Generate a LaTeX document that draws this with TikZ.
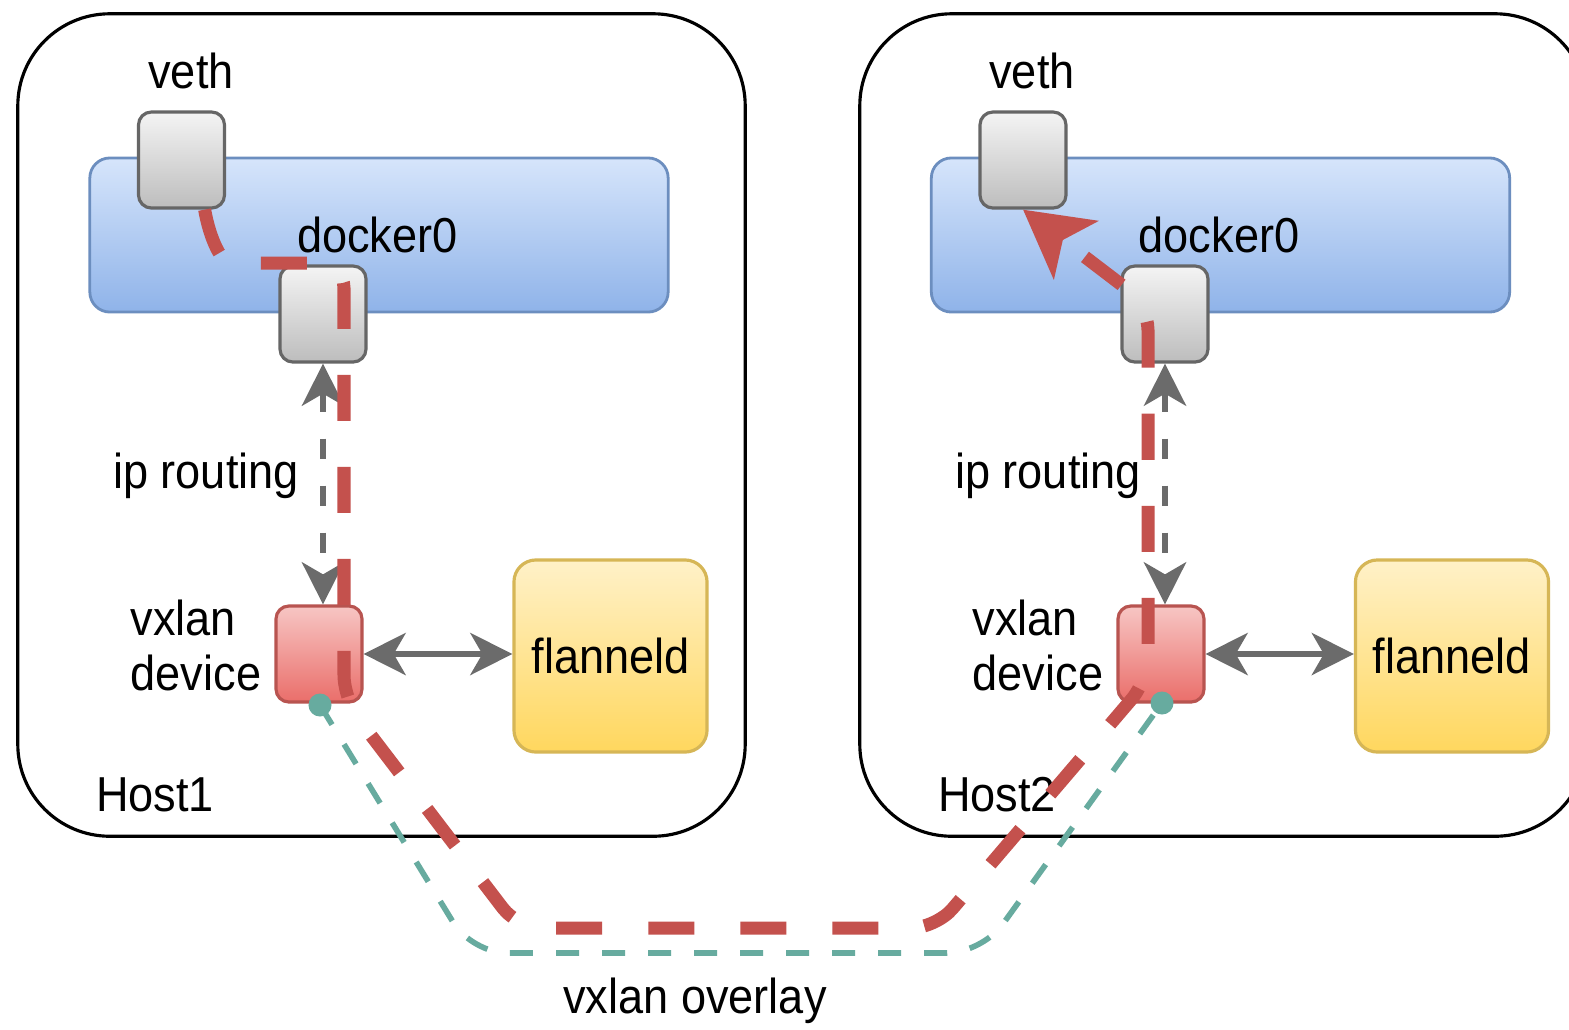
\documentclass[tikz,border=0pt]{standalone}
\usepackage{fontspec}
\setmainfont{Liberation Sans}[FakeStretch=0.92]
\usetikzlibrary{arrows.meta}
\definecolor{bluetop}{HTML}{D6E5FB}
\definecolor{bluebot}{HTML}{8FB3E9}
\definecolor{bluedraw}{HTML}{6C8EBF}
\definecolor{graytop}{HTML}{F4F4F4}
\definecolor{graybot}{HTML}{BDBDBD}
\definecolor{graydraw}{HTML}{666666}
\definecolor{redtop}{HTML}{F7C6C4}
\definecolor{redbot}{HTML}{EA6E6A}
\definecolor{reddraw}{HTML}{B85450}
\definecolor{yeltop}{HTML}{FFF1C8}
\definecolor{yelbot}{HTML}{FFD75E}
\definecolor{yeldraw}{HTML}{D6B656}
\definecolor{tealc}{HTML}{67AB9F}
\definecolor{flowred}{HTML}{C4514D}
\definecolor{arrowgray}{HTML}{6B6B6B}
\begin{document}
\begin{tikzpicture}[x=0.01cm,y=-0.01cm,
  lbl/.style={font=\fontsize{13.95pt}{15.65pt}\selectfont, inner sep=0pt, text=black},
  hostbox/.style={draw=black, line width=0.9pt, rounded corners=0.92cm, fill=white, minimum width=7.27cm, minimum height=8.22cm, inner sep=0pt},
  bridge/.style={draw=bluedraw, line width=0.8pt, rounded corners=0.2cm, top color=bluetop, bottom color=bluebot, minimum width=5.78cm, minimum height=1.54cm, inner sep=0pt},
  port/.style={draw=graydraw, line width=0.9pt, rounded corners=0.13cm, top color=graytop, bottom color=graybot, minimum width=0.86cm, minimum height=0.96cm, inner sep=0pt},
  vxbox/.style={draw=reddraw, line width=0.9pt, rounded corners=0.13cm, top color=redtop, bottom color=redbot, minimum width=0.86cm, minimum height=0.96cm, inner sep=0pt},
  daemon/.style={draw=yeldraw, line width=0.9pt, rounded corners=0.22cm, top color=yeltop, bottom color=yelbot, minimum width=1.93cm, minimum height=1.92cm, inner sep=0pt},
  tealdot/.style={circle, fill=tealc, minimum size=0.23cm, inner sep=0pt},
  routing/.style={draw=arrowgray, line width=1.8pt, dash pattern=on 0.2cm off 0.27cm, >={Stealth[length=0.42cm,width=0.42cm,inset=0.12cm]}, <->},
  ctl/.style={draw=arrowgray, line width=1.7pt, >={Stealth[length=0.42cm,width=0.42cm,inset=0.12cm]}, <->},
  overlaypath/.style={draw=tealc, line width=1.6pt, dash pattern=on 0.23cm off 0.23cm, rounded corners=0.35cm},
  flow/.style={draw=flowred, line width=3.7pt, dash pattern=on 0.46cm off 0.46cm, rounded corners=0.25cm, >={Stealth[length=0.66cm,width=0.72cm,inset=0.16cm]}, ->}
]
\useasboundingbox (0,0) rectangle (1569,1029);
\clip (0,0) rectangle (1569,1029);
\fill[white] (0,0) rectangle (1569,1029);

% hosts
\node[hostbox] (host1) at (381.5,425) {};
\node[hostbox] (host2) at (1223.5,425) {};

% host 1
\node[bridge] (bar1) at (379,235) {};
\node[port] (veth1) at (181.5,160) {};
\node[port] (gb1) at (323,314) {};
\node[vxbox] (vx1) at (319,654) {};
\node[daemon] (fl1) at (610.5,656) {};
\node[lbl, anchor=base] (vethl1) at (191,88) {veth};
\node[lbl, anchor=base] (dockl1) at (377.5,252) {docker0};
\node[lbl, anchor=base] (ipl1) at (206,488) {ip routing};
\node[lbl, anchor=west, align=left] (vxl1) at (130,645) {vxlan\\device};
\node[lbl, anchor=base] (hostl1) at (155,811) {Host1};
\node[lbl, anchor=base] (fll1) at (610.5,673) {flanneld};

% host 2
\node[bridge] (bar2) at (1220.5,235) {};
\node[port] (veth2) at (1023,160) {};
\node[port] (gb2) at (1165,314) {};
\node[vxbox] (vx2) at (1161,654) {};
\node[daemon] (fl2) at (1452,656) {};
\node[lbl, anchor=base] (vethl2) at (1032,88) {veth};
\node[lbl, anchor=base] (dockl2) at (1219,252) {docker0};
\node[lbl, anchor=base] (ipl2) at (1048,488) {ip routing};
\node[lbl, anchor=west, align=left] (vxl2) at (972,645) {vxlan\\device};
\node[lbl, anchor=base] (hostl2) at (997,811) {Host2};
\node[lbl, anchor=base] (fll2) at (1452,673) {flanneld};

\node[lbl, anchor=base] (ovl) at (695,1013) {vxlan overlay};

% control arrows
\draw[routing] (gb1.south) -- (gb1.south |- vx1.north);
\draw[routing] (gb2.south) -- (gb2.south |- vx2.north);
\draw[ctl] (vx1.east) -- (vx1.east -| fl1.west);
\draw[ctl] (vx2.east) -- (vx2.east -| fl2.west);

% vxlan overlay (teal)
\coordinate (p1) at (320,705);
\coordinate (p2) at (1162,703);
\coordinate (t1) at (472,953);
\coordinate (t2) at (982,953);
\draw[overlaypath] (p1) -- (t1) -- (t2) -- (p2);

% packet flow (red)
\coordinate (r1) at (255,263);
\coordinate (r2) at (344,263);
\coordinate (r3) at (344,700);
\coordinate (r4) at (518,928);
\coordinate (r5) at (936,928);
\coordinate (r6) at (1148,680);
\coordinate (r7) at (1148,305);
\draw[flow] (veth1.-65) .. controls (210,240) and (222,263) .. (r1) -- (r2) -- (r3) -- (r4) -- (r5) -- (r6) -- (r7) -- (veth2.south);

\node[tealdot] (dot1) at (p1) {};
\node[tealdot] (dot2) at (p2) {};
\end{tikzpicture}
\end{document}
